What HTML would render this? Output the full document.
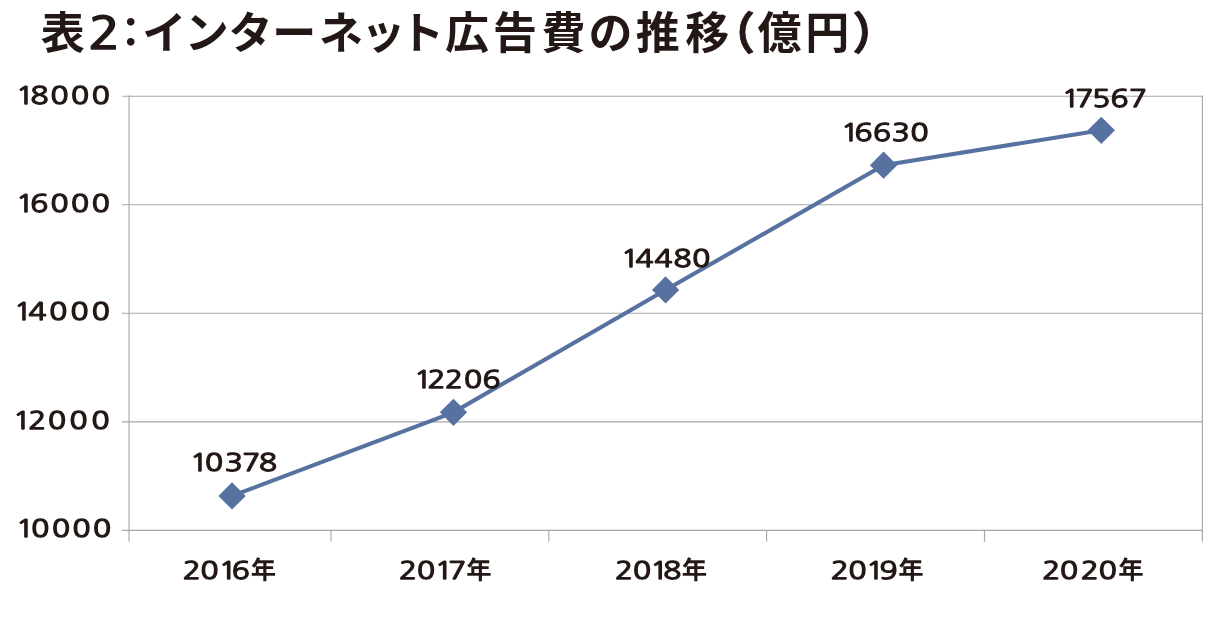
<!DOCTYPE html>
<html lang="ja">
<head>
<meta charset="utf-8">
<title>表2：インターネット広告費の推移（億円）</title>
<style>
html,body{margin:0;padding:0;background:#fff;}
body{width:1218px;height:622px;overflow:hidden;position:relative;}
svg{position:absolute;left:0;top:0;display:block;}
text{fill:#231815;}
.num{text-rendering:geometricPrecision;font-family:"NanumGothic","Liberation Sans",sans-serif;font-size:24.2px;font-weight:400;stroke:#231815;stroke-width:1.3;}
.kj{font-family:"Liberation Sans","Noto Sans CJK JP",sans-serif;font-weight:700;stroke:none;}
.title{font-family:"Liberation Sans","Noto Sans CJK JP",sans-serif;font-weight:700;font-size:44px;}
.t2{font-family:"NanumGothic","Liberation Sans",sans-serif;font-weight:700;}
.pr{stroke:#231815;stroke-width:0.9;}
.grid{stroke:#a8a6a9;stroke-width:1.15;fill:none;}
.series{stroke:#5772a1;stroke-width:4.1;fill:none;}
.mk{fill:#5772a1;}
</style>
</head>
<body>
<svg width="1218" height="622" viewBox="0 0 1218 622">
<rect width="1218" height="622" fill="#fff"/>
<g class="grid">
<line x1="122" y1="96.2" x2="1203" y2="96.2"/>
<line x1="122" y1="204.74" x2="1203" y2="204.74"/>
<line x1="122" y1="313.28" x2="1203" y2="313.28"/>
<line x1="122" y1="421.81" x2="1203" y2="421.81"/>
<line x1="122" y1="530.35" x2="1203" y2="530.35"/>
<line x1="129.05" y1="95.6" x2="129.05" y2="541.85"/>
<line x1="1202.4" y1="95.6" x2="1202.4" y2="541.85"/>
<line x1="331" y1="530.35" x2="331" y2="541.85"/>
<line x1="548.8" y1="530.35" x2="548.8" y2="541.85"/>
<line x1="766.6" y1="530.35" x2="766.6" y2="541.85"/>
<line x1="984.5" y1="530.35" x2="984.5" y2="541.85"/>
</g>
<polyline class="series" points="232.05,495.95 453.45,412.35 665.6,289.95 883.6,165.2 1101.3,130.3"/>
<g class="mk">
<path d="M232.05 482.3L245.7 495.95L232.05 509.6L218.4 495.95Z"/>
<path d="M453.45 398.7L467.1 412.35L453.45 426L439.8 412.35Z"/>
<path d="M665.6 276.3L679.25 289.95L665.6 303.6L651.95 289.95Z"/>
<path d="M883.6 151.55L897.25 165.2L883.6 178.85L869.95 165.2Z"/>
<path d="M1101.3 116.65L1114.95 130.3L1101.3 143.95L1087.65 130.3Z"/>
</g>
<text class="title" y="48.6"><tspan x="40.76">表</tspan><tspan class="t2" x="87.41" y="49.4" font-size="46.1" textLength="33.52" lengthAdjust="spacingAndGlyphs">2</tspan><tspan x="110.6" y="47.3" font-size="40.5">：</tspan><tspan y="48.6" x="142.2 184.79 228.38 272.25 319.03 361.27 399.9 445 492.91 541.5 588.46 635.87 685.32">インターネット広告費の推移</tspan><tspan x="710.45" y="49" font-size="44.4" class="pr">（</tspan><tspan y="48.6" x="757.55 805.29">億円</tspan><tspan x="852.45" y="49" font-size="44.4" class="pr">）</tspan></text>
<g class="num" transform="scale(1.23 1)">
<text y="104" x="13.11 24.74 41.11 57.82 74.65">18000</text>
<text y="212" x="13.07 24.68 41.11 57.82 74.65">16000</text>
<text y="320" x="11.36 23.22 39.98 57.42 74.65">14000</text>
<text y="429" x="10.47 23 39 56.6 74.45">12000</text>
<text y="537" x="13.11 25.46 42.38 59.04 75.55">10000</text>
<text y="471" x="154.53 166.77 182.73 196.96 210.56">10378</text>
<text y="388" x="336.52 347.51 361.78 377.17 392.39">12206</text>
<text y="267" x="504.86 516.65 532.16 547.47 562.9">14480</text>
<text y="141" x="683.84 694.8 709.76 725.07 740.18">16630</text>
<text y="107" x="863.15 874.38 888 902.77 917.85">17567</text>
<text y="579" x="148.53 163.11 177.82 188.42">2016<tspan class="kj" font-size="25.4" x="203.81" y="579.3" textLength="20.65" lengthAdjust="spacingAndGlyphs">年</tspan></text>
<text y="579" x="324.38 339.04 353.51 364.44">2017<tspan class="kj" font-size="25.4" x="379.05" y="579.3" textLength="20.65" lengthAdjust="spacingAndGlyphs">年</tspan></text>
<text y="579" x="499.99 514.65 528.72 539.34">2018<tspan class="kj" font-size="25.4" x="554.29" y="579.3" textLength="20.65" lengthAdjust="spacingAndGlyphs">年</tspan></text>
<text y="579" x="675.36 689.94 704.08 715.04">2019<tspan class="kj" font-size="25.4" x="730.27" y="579.3" textLength="20.65" lengthAdjust="spacingAndGlyphs">年</tspan></text>
<text y="579" x="847.27 861.89 878.73 893.27">2020<tspan class="kj" font-size="25.4" x="909.17" y="579.3" textLength="20.65" lengthAdjust="spacingAndGlyphs">年</tspan></text>
</g>
</svg>
</body>
</html>
